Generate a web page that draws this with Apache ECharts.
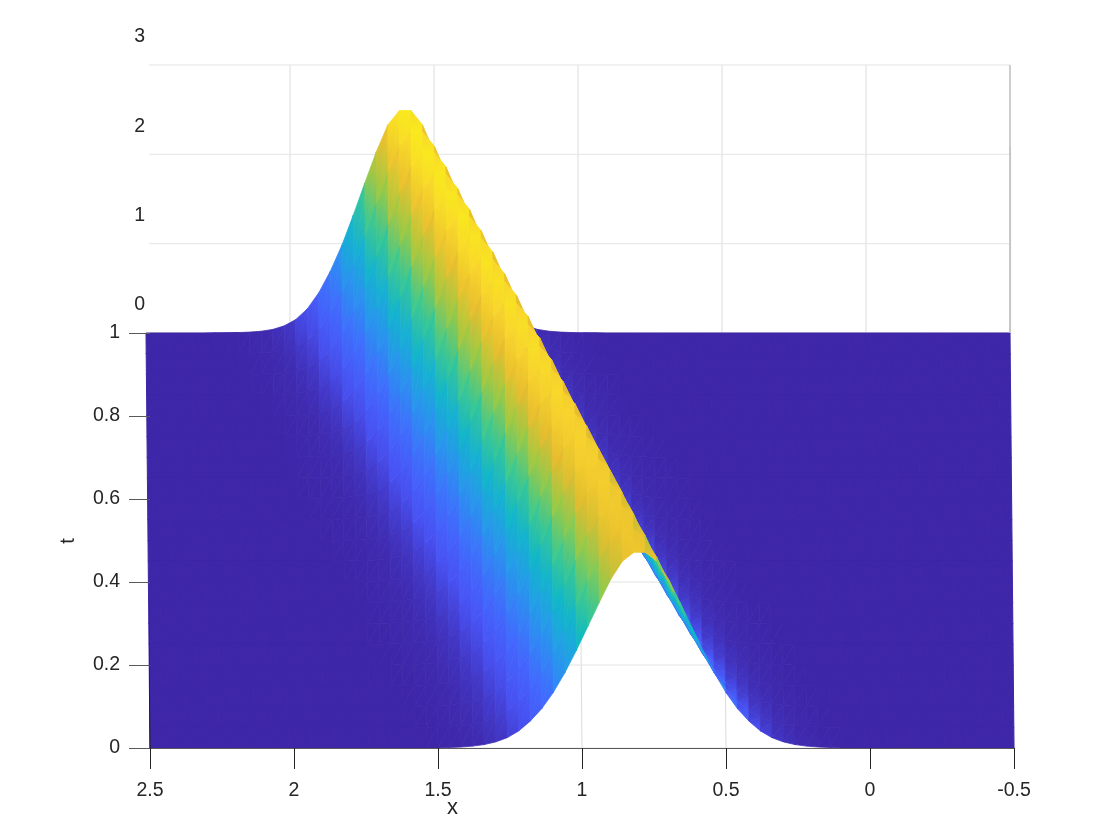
<!DOCTYPE html>
<html lang="en">
<head>
    <meta charset="UTF-8">
    <title>surface x t</title>
    <script src="https://cdn.jsdelivr.net/npm/echarts@6/dist/echarts.min.js"></script>
    <style>
        html, body { margin: 0; padding: 0; background: #fff; }
    </style>
</head>
<body>
    <div id="main" style="width:1120px;height:840px;"></div>
<script>
    // tick labels
    var xTicks = [2.5, 2, 1.5, 1, 0.5, 0, -0.5];
    var tTicks = [0, 0.2, 0.4, 0.6, 0.8, 1];
    var zTicks = [0, 1, 2, 3];

    // mesh
    var xMesh = [2.5,2.46,2.42,2.38,2.34,2.3,2.26,2.22,2.18,2.14,2.1,2.06,2.02,1.98,1.94,1.9,1.86,1.82,1.78,1.74,
        1.7,1.66,1.62,1.58,1.54,1.5,1.46,1.42,1.38,1.34,1.3,1.26,1.22,1.18,1.14,1.1,1.06,1.02,0.98,0.94,
        0.9,0.86,0.82,0.78,0.74,0.7,0.66,0.62,0.58,0.54,0.5,0.46,0.42,0.38,0.34,0.3,0.26,0.22,0.18,0.14,
        0.1,0.06,0.02,-0.02,-0.06,-0.1,-0.14,-0.18,-0.22,-0.26,-0.3,-0.34,-0.38,-0.42,-0.46,-0.5];
    var tMesh = [0,0.05,0.1,0.15,0.2,0.25,0.3,0.35,0.4,0.45,0.5,0.55,0.6,0.65,0.7,0.75,0.8,0.85,0.9,0.95,1];

    // mesh column just left of the crest, one per t row
    var crestColumn = [42,41,40,39,38,37,36,35,34,33,32,31,30,29,28,27,26,25,24,23,22];

    // u, per t row, going outwards from the crest column by column (0 beyond)
    var crestRows = [
        [2.19,2.09,1.89,1.63,1.36,1.09,0.84,0.62,0.44,0.30,0.19,0.115,0.068,0.038,0.021,0.011,0.006],
        [2.21,2.107,1.90,1.634,1.357,1.082,0.83,0.608,0.428,0.29,0.182,0.11,0.065,0.036,0.02,0.0105,0.0057],
        [2.24,2.13,1.914,1.639,1.353,1.071,0.815,0.591,0.411,0.275,0.171,0.102,0.06,0.033,0.018,0.0096,0.0053],
        [2.27,2.155,1.928,1.644,1.349,1.06,0.80,0.574,0.394,0.26,0.16,0.095,0.055,0.030,0.017,0.0088,0.0049],
        [2.30,2.179,1.942,1.649,1.345,1.049,0.785,0.557,0.377,0.245,0.149,0.087,0.05,0.028,0.015,0.008,0.0045],
        [2.32,2.193,1.95,1.652,1.343,1.043,0.776,0.547,0.367,0.235,0.143,0.083,0.047,0.026,0.014,0.0076,0.0043],
        [2.34,2.21,1.96,1.655,1.34,1.035,0.765,0.535,0.355,0.225,0.135,0.078,0.044,0.024,0.013,0.007,0.004],
        [2.36,2.227,1.97,1.659,1.337,1.027,0.755,0.523,0.343,0.215,0.127,0.073,0.041,0.022,0.012,0.0064,0.0037],
        [2.38,2.241,1.978,1.662,1.335,1.021,0.746,0.513,0.333,0.206,0.121,0.068,0.038,0.020,0.011,0.006,0.0035],
        [2.40,2.258,1.988,1.665,1.332,1.013,0.735,0.501,0.321,0.195,0.113,0.0625,0.034,0.018,0.0098,0.0054,0.0032],
        [2.41,2.265,1.992,1.667,1.331,1.01,0.731,0.496,0.316,0.19,0.11,0.060,0.033,0.018,0.0093,0.0052,0.0031],
        [2.42,2.275,1.998,1.669,1.329,1.005,0.725,0.489,0.309,0.185,0.105,0.057,0.031,0.016,0.0087,0.0048,0.0029],
        [2.43,2.282,2.002,1.67,1.328,1.002,0.72,0.484,0.304,0.18,0.102,0.055,0.030,0.016,0.0082,0.0046,0.0028],
        [2.44,2.289,2.006,1.672,1.327,0.999,0.715,0.479,0.299,0.175,0.099,0.053,0.028,0.015,0.0077,0.0044,0.0027],
        [2.45,2.299,2.012,1.674,1.325,0.994,0.71,0.472,0.292,0.17,0.094,0.05,0.026,0.014,0.0071,0.004,0.0025],
        [2.46,2.306,2.016,1.675,1.324,0.991,0.705,0.467,0.287,0.165,0.091,0.048,0.025,0.013,0.0066,0.0038,0.0024],
        [2.47,2.313,2.02,1.677,1.323,0.988,0.70,0.462,0.282,0.16,0.088,0.045,0.023,0.012,0.0061,0.0036,0.0023],
        [2.47,2.313,2.02,1.677,1.323,0.988,0.70,0.462,0.282,0.16,0.088,0.045,0.023,0.012,0.0061,0.0036,0.0023],
        [2.48,2.323,2.026,1.679,1.321,0.983,0.695,0.455,0.275,0.155,0.083,0.042,0.021,0.011,0.0055,0.0032,0.0021],
        [2.48,2.323,2.026,1.679,1.321,0.983,0.695,0.455,0.275,0.155,0.083,0.042,0.021,0.011,0.0055,0.0032,0.0021],
        [2.49,2.33,2.03,1.68,1.32,0.98,0.69,0.45,0.27,0.15,0.08,0.04,0.02,0.01,0.005,0.003,0.002]
    ];

    var parula = ['#3e26a8','#4852f4','#4269fe','#2d8cf3','#1ca9df','#0bbdbd','#4acb84','#9dc942','#e6bb2d','#f9d52d','#f9fb0e'];
    var uMax = 2.6;

    // the view is tilted: u lifts a point up the t axis, t leans it slightly along x
    var uLift = 0.2153;
    var tLean = 0.0139;

    function uAt(r, c) {
        var left = crestColumn[r];
        var k = c <= left ? left - c : c - left - 1;
        return k < crestRows[r].length ? crestRows[r][k] : 0;
    }

    function project(r, c) {
        return [xMesh[c] + tLean * tMesh[r], tMesh[r] + uLift * uAt(r, c)];
    }

    function hex(s, i) {
        return parseInt(s.substr(i, 2), 16);
    }

    function colorOf(u) {
        var p = Math.max(0, Math.min(0.9999, u / uMax)) * (parula.length - 1);
        var i = Math.floor(p), f = p - i;
        var a = parula[i], b = parula[i + 1], out = [];
        for (var n = 1; n <= 5; n += 2) {
            out.push(Math.round(hex(a, n) + (hex(b, n) - hex(a, n)) * f));
        }
        return 'rgb(' + out.join(',') + ')';
    }

    // back rows first so that nearer rows cover them
    var facets = [];
    for (var r = tMesh.length - 2; r >= 0; r--) {
        for (var c = 0; c < xMesh.length - 1; c++) {
            facets.push([r, c, 0]);
            facets.push([r, c, 1]);
        }
    }

    // each strip cell shades from its lower edge to its upper edge,
    // neighbouring strips and the two triangles of a cell differ a little
    function renderFacet(params, api) {
        var r = api.value(0), c = api.value(1), upper = api.value(2);
        var corners;
        if (c === crestColumn[r]) {
            // cell on the crest: split the other way, or the outline gets a notch every row
            corners = upper ? [[r, c], [r, c + 1], [r + 1, c]] : [[r, c + 1], [r + 1, c], [r + 1, c + 1]];
        } else {
            corners = upper ? [[r, c], [r + 1, c], [r + 1, c + 1]] : [[r, c], [r, c + 1], [r + 1, c + 1]];
        }
        var points = corners.map(function (p) { return api.coord(project(p[0], p[1])); });
        var uLow = (uAt(r, c) + uAt(r, c + 1)) / 2;
        var uHigh = (uAt(r + 1, c) + uAt(r + 1, c + 1)) / 2;
        var span = Math.abs(uHigh - uLow);
        var shift = ((upper ? -0.06 : 0.06) + (c % 2 ? 0.08 : -0.08)) * span;
        var fill, width = 0.8;
        if (span < 0.002) {
            fill = colorOf((uLow + uHigh) / 2);
            width = 1;
        } else {
            var yLow = (api.coord(project(r, c))[1] + api.coord(project(r, c + 1))[1]) / 2;
            var yHigh = (api.coord(project(r + 1, c))[1] + api.coord(project(r + 1, c + 1))[1]) / 2;
            var mid = (points[0][0] + points[2][0]) / 2;
            fill = new echarts.graphic.LinearGradient(mid, yLow, mid, yHigh, [
                { offset: 0, color: colorOf(uLow + shift) },
                { offset: 1, color: colorOf(uHigh + shift) }
            ], true);
        }
        return {
            type: 'polygon',
            shape: { points: points },
            style: { fill: fill, stroke: fill, lineWidth: width }
        };
    }

    function renderZLabel(params, api) {
        var p = api.coord([2.5 + tLean, 1 + uLift * api.value(0)]);
        return {
            type: 'text',
            x: p[0] - 1,
            y: p[1] - 28,
            style: {
                text: String(api.value(0)),
                fill: '#262626',
                font: '19.5px "Liberation Sans"',
                align: 'right',
                verticalAlign: 'middle'
            }
        };
    }

    function segment(a, b, color, width, z) {
        return {
            type: 'line',
            data: [a, b],
            symbol: 'none',
            silent: true,
            clip: false,
            z: z || 1,
            lineStyle: { color: color, width: width || 1 }
        };
    }

    var series = [];
    xTicks.forEach(function (x) {
        series.push(segment([x, 0], [x + tLean, 1], '#dcdcdc'));
        series.push(segment([x + tLean, 1], [x + tLean, 1 + uLift * 3], '#dcdcdc'));
    });
    tTicks.forEach(function (t) {
        series.push(segment([2.5 + tLean * t, t], [-0.5 + tLean * t, t], '#e2e2e2'));
    });
    zTicks.forEach(function (z) {
        series.push(segment([2.5 + tLean, 1 + uLift * z], [-0.5 + tLean, 1 + uLift * z], '#e4e4e4'));
    });

    series.push({
        type: 'custom',
        data: facets,
        renderItem: renderFacet,
        silent: true,
        clip: false,
        progressive: 0,
        z: 2
    });

    // axis frame
    series.push(segment([2.5, 0], [2.5 + tLean, 1], '#222222', 1, 3));
    series.push(segment([2.5 + tLean, 1], [2.5 + tLean, 1 + uLift * 3], '#222222', 1, 3));
    series.push(segment([2.5 + tLean, 1 + uLift * 3], [2.5 + tLean, 1 + uLift * 3.25], '#9a9a9a', 1, 3));
    series.push(segment([-0.5 + tLean, 1 + uLift * 3], [-0.5 + tLean, 1 + uLift * 2.1], '#b0b0b0', 1, 3));
    series.push(segment([-0.5 + tLean * 0.98, 1 + uLift * 2.1], [-0.5 + tLean * 0.98, 1], '#c6c6c6', 2, 3));

    series.push({
        type: 'custom',
        data: zTicks.map(function (z) { return [z]; }),
        renderItem: renderZLabel,
        silent: true,
        clip: false,
        z: 4
    });

    var myChart = echarts.init(document.getElementById('main'));

    var option = {
        animation: false,
        backgroundColor: '#ffffff',
        grid: { left: 150, right: 106, top: 36, bottom: 92 },
        xAxis: {
            type: 'value',
            inverse: true,
            min: -0.5,
            max: 2.5,
            interval: 0.5,
            z: 5,
            splitLine: { show: false },
            axisLine: { onZero: false, lineStyle: { color: '#5a5a5a', width: 1.2 } },
            axisTick: { length: 21, lineStyle: { color: '#222222', width: 1 } },
            axisLabel: {
                margin: 33,
                color: '#262626',
                fontSize: 19.5,
                fontFamily: 'Liberation Sans',
                showMinLabel: true,
                showMaxLabel: true,
                formatter: function (v) { return String(v); }
            }
        },
        yAxis: {
            type: 'value',
            min: 0,
            max: 1.7157,
            z: 5,
            splitLine: { show: false },
            axisLine: { show: false, onZero: false },
            axisTick: { customValues: tTicks, length: 21, lineStyle: { color: '#5a5a5a', width: 1 } },
            axisLabel: {
                customValues: tTicks,
                margin: 30,
                padding: [11, 0, 0, 0],
                color: '#262626',
                fontSize: 19.5,
                fontFamily: 'Liberation Sans',
                formatter: function (v) { return String(v); }
            }
        },
        graphic: [
            {
                type: 'text',
                left: 447,
                top: 797,
                style: { text: 'x', fill: '#262626', font: '22px "Liberation Sans"' }
            },
            {
                type: 'text',
                x: 68,
                y: 541,
                rotation: Math.PI / 2,
                style: { text: 't', fill: '#262626', font: '20px "Liberation Sans"', align: 'center', verticalAlign: 'middle' }
            }
        ],
        series: series
    };

    myChart.setOption(option);
</script>
</body>
</html>
